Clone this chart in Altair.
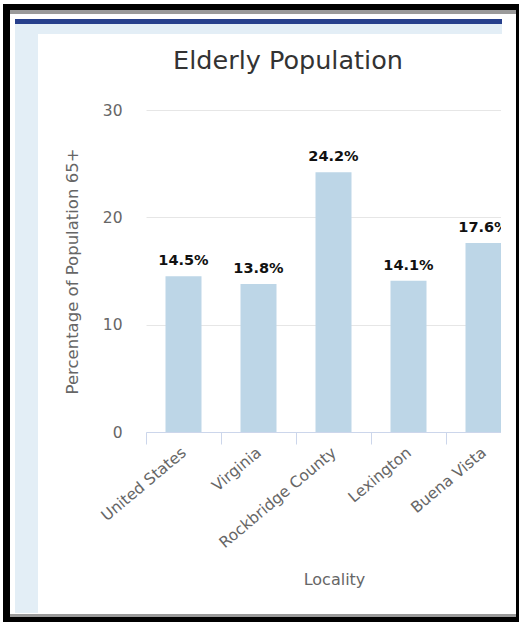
import altair as alt
import pandas as pd

chart_title = "Elderly Population"
localities = ["United States", "Virginia", "Rockbridge County", "Lexington", "Buena Vista"]
values = [14.5, 13.8, 24.2, 14.1, 17.6]
y_ticks = [0, 10, 20, 30]

df = pd.DataFrame({"Locality": localities, "Pct": values})

FONT = "DejaVu Sans"
PL, PT = 146, 110  # plot origin in page pixels
W, H = 355, 322

x_enc = alt.X(
    "Locality:N",
    sort=localities,
    scale=alt.Scale(range=[0, 375], paddingInner=0, paddingOuter=0),
    axis=alt.Axis(
        title="Locality",
        labelAngle=-40,
        labelAlign="right",
        labelBaseline="middle",
        labelFontSize=15.5,
        labelColor="#666666",
        labelFont=FONT,
        labelPadding=6,
        labelOverlap=False,
        tickBand="extent",
        tickSize=12,
        tickColor="#ccd6eb",
        domainColor="#ccd6eb",
        titleFont=FONT,
        titleFontSize=16,
        titleFontWeight="normal",
        titleColor="#666666",
        titlePadding=21,
        titleX=188,
        grid=False,
    ),
)

y_enc = alt.Y(
    "Pct:Q",
    scale=alt.Scale(domain=[0, 30], nice=False),
    axis=alt.Axis(
        title="Percentage of Population 65+",
        values=y_ticks,
        ticks=False,
        domain=False,
        labelPadding=24,
        labelFontSize=15.5,
        labelColor="#666666",
        labelFont=FONT,
        gridColor="#e6e6e6",
        titleFont=FONT,
        titleFontSize=16.5,
        titleFontWeight="normal",
        titleColor="#666666",
        titlePadding=22,
    ),
)

bars = alt.Chart(df).mark_bar(size=36, color="#bdd6e7").encode(x=x_enc, y=y_enc)

labels = (
    alt.Chart(df)
    .transform_calculate(lbl="format(datum.Pct, '.1f') + '%'")
    .mark_text(baseline="alphabetic", dy=-11, font=FONT, fontSize=14.5, fontWeight="bold", color="#111111")
    .encode(x=alt.X("Locality:N", sort=localities), y="Pct:Q", text="lbl:N")
)

title_mark = (
    alt.Chart(alt.Data(values=[{"t": chart_title}]))
    .mark_text(font=FONT, fontSize=25.5, color="#333333", align="center", baseline="alphabetic")
    .encode(x=alt.value(288 - PL), y=alt.value(69 - PT), text="t:N")
)


def deco(x0, y0, x1, y1, color):
    return (
        alt.Chart(alt.Data(values=[{}]))
        .mark_rect(color=color)
        .encode(
            x=alt.value(x0 - PL),
            x2=alt.value(x1 - PL),
            y=alt.value(y0 - PT),
            y2=alt.value(y1 - PT),
        )
    )


decos = [
    deco(501, 14, 516, 616, "#ffffff"),   # right clipping strip
    deco(10, 14, 516, 19, "#ffffff"),
    deco(15, 24, 38, 613, "#e3eef6"),     # left light strip
    deco(15, 24, 502, 34, "#e3eef6"),     # top light band
    deco(15, 19, 502, 24, "#263f8c"),     # dark blue line
    deco(3, 10, 516, 14, "#9a9a9a"),      # gray line
    deco(10, 614, 516, 617, "#9a9a9a"),
    deco(3, 4, 519, 10, "#000000"),       # top black
    deco(3, 4, 10, 622, "#000000"),       # left black
    deco(516, 4, 519, 622, "#000000"),    # right black
    deco(3, 617, 519, 622, "#000000"),    # bottom black
]

chart = (
    alt.layer(bars, labels, title_mark, *decos)
    .properties(
        width=W,
        height=H,
        autosize=alt.AutoSizeParams(type="none"),
        padding={"left": PL, "top": PT, "right": 519 - PL - W, "bottom": 622 - PT - H},
        background="#ffffff",
    )
    .configure_view(stroke=None)
)

chart.save("out.html", embed_options={"renderer": "svg", "actions": False})
